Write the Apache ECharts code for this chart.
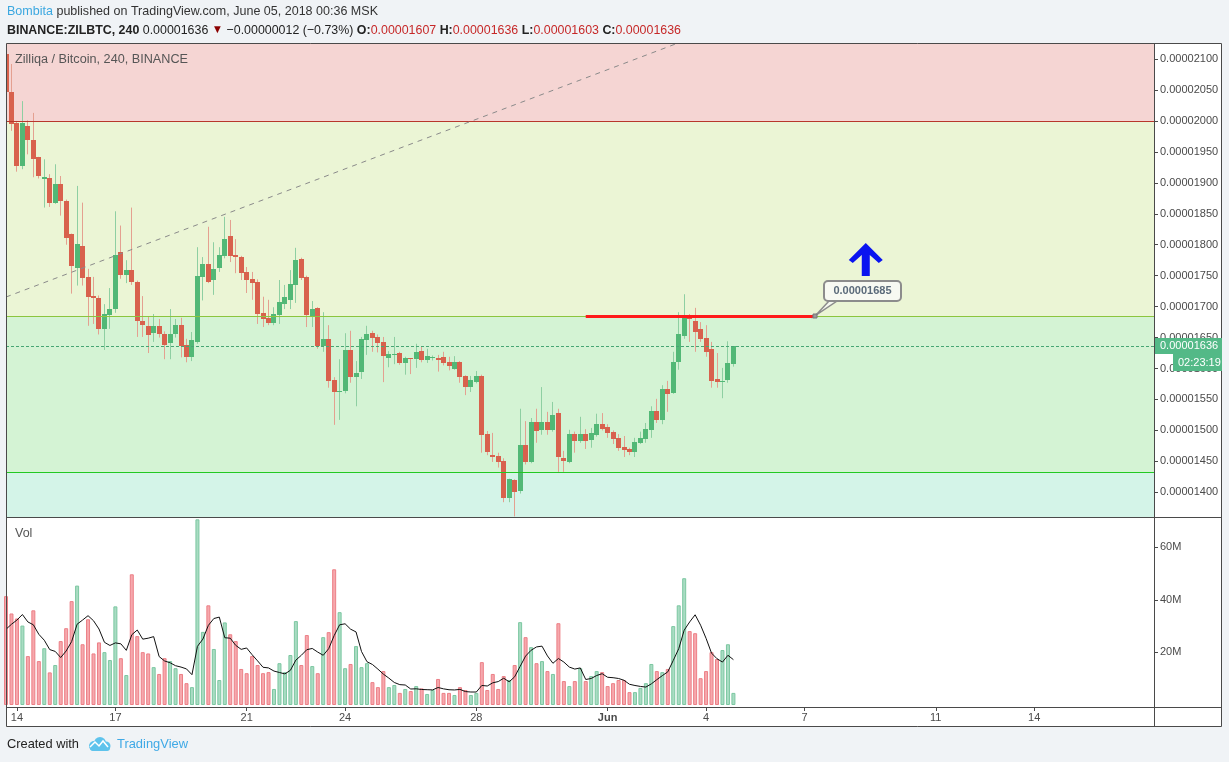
<!DOCTYPE html>
<html>
<head>
<meta charset="utf-8">
<title>ZILBTC, 240</title>
<script src="https://cdn.jsdelivr.net/npm/echarts@6/dist/echarts.min.js"></script>
<style>
  html, body { margin: 0; padding: 0; background: #f0f3f6; }
  #chart { width: 1229px; height: 762px; }
</style>
</head>
<body>
<div id="chart"></div>
<script>
// ZIL/BTC 4h candles, prices in satoshi (1e-8 BTC), first bar May 13 16:00 UTC
const opens = [
  2108, 2046, 1996, 1927, 1991, 1969, 1941, 1907, 1908, 1868,
  1898, 1871, 1817, 1763, 1798, 1748, 1717, 1714, 1664, 1687,
  1696, 1788, 1751, 1759, 1739, 1677, 1669, 1656, 1668, 1656,
  1642, 1656, 1670, 1638, 1618, 1644, 1748, 1769, 1743, 1762,
  1782, 1814, 1783, 1780, 1756, 1745, 1740, 1690, 1682, 1674,
  1686, 1704, 1711, 1735, 1777, 1748, 1685, 1698, 1637, 1648,
  1582, 1562, 1564, 1630, 1586, 1594, 1646, 1657, 1651, 1643,
  1617, 1622, 1625, 1609, 1617, 1616, 1628, 1614, 1617, 1617,
  1619, 1611, 1599, 1611, 1588, 1570, 1578, 1588, 1494, 1460,
  1459, 1451, 1392, 1420, 1401, 1476, 1449, 1514, 1501, 1514,
  1501, 1528, 1456, 1449, 1494, 1483, 1494, 1485, 1493, 1510,
  1506, 1498, 1488, 1474, 1470, 1465, 1480, 1486, 1501, 1531,
  1517, 1567, 1561, 1611, 1653, 1685, 1677, 1664, 1649, 1632,
  1583, 1578, 1582, 1607
];
const highs = [
  2115, 2092, 2000, 2032, 2001, 2013, 1942, 1938, 1914, 1930,
  1911, 1873, 1818, 1895, 1868, 1761, 1748, 1718, 1704, 1730,
  1854, 1831, 1775, 1860, 1742, 1717, 1684, 1688, 1680, 1660,
  1696, 1680, 1682, 1648, 1659, 1796, 1780, 1829, 1804, 1796,
  1845, 1840, 1809, 1782, 1764, 1756, 1744, 1716, 1711, 1699,
  1743, 1735, 1759, 1795, 1779, 1750, 1709, 1699, 1691, 1670,
  1586, 1615, 1657, 1661, 1612, 1651, 1669, 1661, 1655, 1651,
  1628, 1651, 1627, 1619, 1617, 1640, 1635, 1632, 1621, 1622,
  1627, 1619, 1620, 1612, 1589, 1588, 1596, 1590, 1499, 1496,
  1464, 1455, 1422, 1421, 1535, 1515, 1520, 1535, 1570, 1530,
  1546, 1535, 1467, 1501, 1498, 1522, 1502, 1504, 1527, 1528,
  1510, 1500, 1494, 1491, 1472, 1488, 1498, 1512, 1539, 1551,
  1573, 1580, 1627, 1691, 1720, 1688, 1698, 1675, 1670, 1643,
  1625, 1601, 1644, 1636
];
const lows = [
  2040, 1984, 1918, 1922, 1946, 1909, 1907, 1860, 1861, 1866,
  1847, 1800, 1721, 1734, 1734, 1669, 1672, 1655, 1630, 1664,
  1690, 1745, 1738, 1735, 1651, 1651, 1625, 1643, 1650, 1615,
  1615, 1650, 1618, 1610, 1612, 1640, 1710, 1738, 1719, 1756,
  1778, 1772, 1754, 1743, 1722, 1711, 1672, 1667, 1670, 1670,
  1672, 1696, 1696, 1706, 1743, 1667, 1667, 1632, 1627, 1569,
  1509, 1517, 1560, 1577, 1539, 1583, 1622, 1627, 1626, 1578,
  1602, 1607, 1606, 1590, 1591, 1601, 1610, 1609, 1613, 1595,
  1605, 1597, 1598, 1577, 1557, 1562, 1576, 1464, 1460, 1449,
  1440, 1384, 1384, 1361, 1398, 1445, 1447, 1480, 1493, 1493,
  1498, 1433, 1433, 1447, 1464, 1480, 1470, 1472, 1490, 1500,
  1488, 1478, 1467, 1457, 1460, 1457, 1478, 1480, 1488, 1512,
  1510, 1530, 1559, 1598, 1648, 1643, 1627, 1643, 1619, 1569,
  1569, 1552, 1577, 1603
];
const closes = [
  2046, 1995, 1926, 1996, 1968, 1939, 1911, 1910, 1868, 1898,
  1870, 1811, 1766, 1801, 1747, 1716, 1713, 1664, 1688, 1696,
  1783, 1751, 1759, 1739, 1676, 1671, 1655, 1668, 1655, 1639,
  1656, 1670, 1636, 1618, 1646, 1750, 1769, 1740, 1761, 1783,
  1809, 1782, 1779, 1754, 1743, 1738, 1688, 1680, 1674, 1688,
  1707, 1716, 1737, 1775, 1746, 1686, 1696, 1637, 1648, 1580,
  1562, 1563, 1630, 1586, 1593, 1648, 1656, 1649, 1641, 1620,
  1624, 1623, 1609, 1617, 1616, 1627, 1614, 1620, 1618, 1614,
  1609, 1604, 1611, 1586, 1570, 1582, 1588, 1493, 1465, 1457,
  1449, 1391, 1422, 1401, 1476, 1449, 1514, 1499, 1514, 1501,
  1525, 1457, 1451, 1494, 1483, 1494, 1483, 1496, 1510, 1502,
  1496, 1486, 1472, 1469, 1465, 1481, 1488, 1502, 1531, 1517,
  1567, 1559, 1611, 1656, 1683, 1680, 1659, 1648, 1627, 1580,
  1578, 1580, 1609, 1636
];
// volume in millions
const volumes = [
  41.4, 34.8, 32.9, 30.2, 18.6, 36.0, 16.7, 21.6, 12.4, 15.2,
  24.3, 29.2, 39.5, 45.4, 23.1, 32.6, 19.6, 23.8, 20.1, 17.1,
  37.5, 17.8, 11.4, 49.7, 26.2, 20.1, 19.6, 14.4, 11.8, 17.8,
  16.7, 14.0, 11.8, 8.3, 6.8, 70.6, 27.8, 37.9, 21.3, 9.5,
  31.4, 26.9, 24.3, 13.7, 12.1, 18.6, 15.2, 12.1, 12.5, 6.1,
  15.9, 12.5, 19.0, 31.9, 15.2, 26.6, 14.8, 12.1, 25.8, 27.7,
  51.6, 35.3, 14.0, 15.6, 22.4, 14.4, 15.9, 8.7, 6.8, 12.9,
  6.8, 7.6, 4.6, 6.1, 5.3, 7.2, 6.3, 4.2, 5.7, 9.9,
  4.6, 4.6, 3.8, 6.8, 5.7, 3.8, 4.6, 16.3, 5.7, 11.8,
  6.1, 11.0, 9.5, 15.2, 31.5, 25.8, 22.0, 15.9, 16.7, 12.9,
  11.8, 31.1, 9.1, 7.2, 9.1, 14.0, 9.1, 11.0, 12.9, 12.5,
  7.2, 8.3, 9.5, 9.5, 4.9, 4.9, 6.5, 8.3, 15.6, 12.9,
  12.5, 13.7, 30.0, 37.9, 48.2, 28.1, 27.3, 10.2, 12.9, 20.1,
  17.5, 20.9, 23.1, 4.6
];
// MA values of the first bars (their window starts before the visible range)
const volMaHead = [28.8, 30.7, 32.3, 34.4];
const maLength = 5;

// x axis: bar index of each day label
const dayTickIdx = [2, 20, 44, 62, 86, 110, 128, 146, 170, 188];
const dayTickLabels = ['14', '17', '21', '24', '28', 'Jun', '4', '7', '11', '14'];
const priceTicks = [1400, 1450, 1500, 1550, 1600, 1650, 1700, 1750, 1800, 1850, 1900, 1950, 2000, 2050, 2100];
const volTicks = [20, 40, 60];

// drawn levels and lines (satoshi)
const zoneLevels = [1360.1, 1433, 1685, 2000, 2125.9];
const zoneColors = ['#d4f4e8', '#d4f3d4', '#ebf5d5', '#f5d5d3'];
const zoneLineColors = ['#22c922', '#8cc53e', '#b8372c'];
const trendLine = [[0, 1715.5], [122.9, 2125.9]];
const resistance = [[106, 1685], [147.9, 1685]];
const arrowAt = [157.2, 1777];
const countdown = '02:23:19';

const fmt = v => (v / 1e8).toFixed(8);
const last = closes.length - 1;
const xMax = 209.9;

const upBody = '#52b876', downBody = '#d8614d';
const upWick = '#8ecfa2', downWick = '#e4a090';

const volMa = volumes.map((v, i) => i < volMaHead.length
  ? volMaHead[i]
  : volumes.slice(i - maLength + 1, i + 1).reduce((a, b) => a + b, 0) / maLength);

const chart = echarts.init(document.getElementById('chart'), null, { renderer: 'canvas' });
const sans = 'Liberation Sans, Arial, sans-serif';
const axisFont = { fontFamily: sans, fontSize: 11, color: '#4a4a4a' };

// lay out a run of text pieces from x0, squeezed to a target width (the reference uses a condensed face)
const measure = document.createElement('canvas').getContext('2d');
function textRun(segs, x0, y, targetWidth) {
  const widths = segs.map(s => { measure.font = s.font; return measure.measureText(s.text).width; });
  const total = widths.reduce((a, b) => a + b, 0);
  const k = targetWidth ? targetWidth / total : 1;
  let x = x0;
  return segs.map((s, i) => {
    const el = {
      type: 'text', z: 50, silent: true, x: x, y: y, scaleX: k,
      style: { text: s.text, font: s.font, fill: s.fill, verticalAlign: 'middle' }
    };
    x += widths[i] * k;
    return el;
  });
}

const option = {
  animation: false,
  backgroundColor: '#f0f3f6',
  grid: [
    { left: 6, right: 75, top: 43, height: 474 },
    { left: 6, right: 75, top: 518, height: 189 }
  ],
  xAxis: [
    {
      type: 'value', gridIndex: 0, min: 0, max: xMax,
      axisLine: { show: false, onZero: false }, axisTick: { show: false }, axisLabel: { show: false }, splitLine: { show: false }
    },
    {
      type: 'value', gridIndex: 1, min: 0, max: xMax,
      axisLine: { show: false, onZero: false },
      splitLine: { show: false },
      axisTick: { show: true, length: 4, customValues: dayTickIdx, lineStyle: { color: '#4a4a4a' } },
      axisLabel: {
        ...axisFont, margin: 5, customValues: dayTickIdx,
        formatter: v => {
          const t = dayTickLabels[dayTickIdx.indexOf(Math.round(v))];
          return t === 'Jun' ? '{j|Jun}' : t;
        },
        rich: { j: { ...axisFont, fontWeight: 'bold' } }
      }
    }
  ],
  yAxis: [
    {
      type: 'value', gridIndex: 0, position: 'right', min: 1360.1, max: 2125.9,
      axisLine: { show: false, onZero: false }, splitLine: { show: false },
      axisTick: { show: true, length: 4, customValues: priceTicks, lineStyle: { color: '#4a4a4a' } },
      axisLabel: { ...axisFont, margin: 6, customValues: priceTicks, formatter: v => fmt(v) }
    },
    {
      type: 'value', gridIndex: 1, position: 'right', min: -0.76, max: 71.1,
      axisLine: { show: false, onZero: false }, splitLine: { show: false },
      axisTick: { show: true, length: 4, customValues: volTicks, lineStyle: { color: '#4a4a4a' } },
      axisLabel: { ...axisFont, margin: 6, customValues: volTicks, formatter: v => v + 'M' }
    }
  ],
  series: [
    {
      // price zones behind the candles
      name: 'zones', type: 'line', xAxisIndex: 0, yAxisIndex: 0, data: [], z: 1, silent: true,
      markArea: {
        silent: true,
        data: zoneColors.map((c, k) => [
          { yAxis: zoneLevels[k], itemStyle: { color: c } },
          { yAxis: zoneLevels[k + 1] }
        ])
      },
      markLine: {
        silent: true, symbol: 'none', label: { show: false },
        data: zoneLineColors.map((c, k) => ({ yAxis: zoneLevels[k + 1], lineStyle: { color: c, width: 1, type: 'solid' } }))
          .concat([{ yAxis: closes[last], lineStyle: { color: '#47a574', width: 1, type: [3, 2] } }])
      }
    },
    {
      name: 'ZILBTC', type: 'custom', xAxisIndex: 0, yAxisIndex: 0, z: 3,
      data: opens.map((o, i) => [i, o, closes[i], lows[i], highs[i]]),
      encode: { x: 0, y: [1, 2, 3, 4] },
      renderItem: function (params, api) {
        const i = api.value(0);
        const o = api.value(1), c = api.value(2), lo = api.value(3), hi = api.value(4);
        const up = c >= o;
        const pO = api.coord([i, o]), pC = api.coord([i, c]);
        const yH = api.coord([i, hi])[1], yL = api.coord([i, lo])[1];
        const cs = params.coordSys;
        const left = Math.round(pO[0] - 2.5);
        const top = Math.round(Math.min(pO[1], pC[1]));
        const h = Math.max(1, Math.round(Math.abs(pC[1] - pO[1])));
        const body = echarts.graphic.clipRectByRect(
          { x: left, y: top, width: 5, height: h },
          { x: cs.x, y: cs.y, width: cs.width, height: cs.height }
        );
        const children = [];
        const wx = left + 2.5;
        if (wx > cs.x) {
          children.push({
            type: 'line',
            shape: { x1: wx, y1: Math.max(yH, cs.y), x2: wx, y2: yL },
            style: { stroke: up ? upWick : downWick, lineWidth: 1 }
          });
        }
        if (body) children.push({ type: 'rect', shape: body, style: { fill: up ? upBody : downBody } });
        return { type: 'group', children: children };
      }
    },
    {
      name: 'drawings', type: 'line', xAxisIndex: 0, yAxisIndex: 0, data: [], z: 5, silent: true,
      markLine: {
        silent: true, symbol: 'none', label: { show: false },
        data: [
          [
            { coord: trendLine[0], lineStyle: { color: '#8a8a8a', width: 1, type: [5, 5] } },
            { coord: trendLine[1] }
          ],
          [
            { coord: resistance[0], lineStyle: { color: '#ff1a1a', width: 3, type: 'solid' } },
            { coord: resistance[1] }
          ]
        ]
      }
    },
    {
      name: 'Vol', type: 'bar', xAxisIndex: 1, yAxisIndex: 1, barWidth: 4, z: 3,
      data: volumes.map((v, i) => {
        const up = closes[i] >= opens[i];
        return {
          value: [i, v],
          itemStyle: {
            color: up ? '#a9dcc3' : '#f6a8ad',
            borderColor: up ? '#7cc7a1' : '#ec7f86',
            borderWidth: 1
          }
        };
      })
    },
    {
      name: 'Vol MA', type: 'line', xAxisIndex: 1, yAxisIndex: 1, z: 4,
      showSymbol: false, symbol: 'none',
      lineStyle: { color: '#111', width: 1 },
      data: volMa.map((v, i) => [i, v])
    }
  ]
};

chart.setOption(option);

// overlays positioned from data coordinates
const pLast = chart.convertToPixel({ gridIndex: 0 }, [last, closes[last]]);
const pRes = chart.convertToPixel({ gridIndex: 0 }, resistance[1]);
const pArrow = chart.convertToPixel({ gridIndex: 0 }, arrowAt);
const yl = Math.round(pLast[1]);
const rx = Math.round(pRes[0]), ry = Math.round(pRes[1]);
const ax = pArrow[0], ay = pArrow[1];
const arrowPts = [[0, -16], [17, 1], [13, 4], [4, -4], [4, 17], [-4, 17], [-4, -4], [-13, 4], [-17, 1]]
  .map(p => [ax + p[0], ay + p[1]]);

const fN = '13px ' + sans, fB = 'bold 13px ' + sans;
const header1 = textRun([
  { text: 'Bombita', font: fN, fill: '#3aa7e0' },
  { text: ' published on TradingView.com, June 05, 2018 00:36 MSK', font: fN, fill: '#333' }
], 7, 11, 371);
const header2 = textRun([
  { text: 'BINANCE:ZILBTC, 240', font: fB, fill: '#222' },
  { text: ' ' + fmt(closes[last]) + ' ', font: fN, fill: '#222' },
  { text: '▼', font: '12px ' + sans, fill: '#8b0000' },
  { text: ' −0.00000012 (−0.73%) ', font: fN, fill: '#222' },
  { text: 'O:', font: fB, fill: '#222' },
  { text: fmt(opens[last]) + ' ', font: fN, fill: '#c62828' },
  { text: 'H:', font: fB, fill: '#222' },
  { text: fmt(highs[last]) + ' ', font: fN, fill: '#c62828' },
  { text: 'L:', font: fB, fill: '#222' },
  { text: fmt(lows[last]) + ' ', font: fN, fill: '#c62828' },
  { text: 'C:', font: fB, fill: '#222' },
  { text: fmt(closes[last]), font: fN, fill: '#c62828' }
], 7, 30, 674);
const paneTitle = textRun([{ text: 'Zilliqa / Bitcoin, 240, BINANCE', font: '12.5px ' + sans, fill: '#555' }], 15, 60, 173);
const volTitle = textRun([{ text: 'Vol', font: '12.5px ' + sans, fill: '#555' }], 15, 534, 0);
const footer = textRun([{ text: 'Created with', font: fN, fill: '#222' }], 7, 744, 72)
  .concat(textRun([{ text: 'TradingView', font: fN, fill: '#3fa9e6' }], 117, 744, 71));

chart.setOption({
  graphic: [
    { type: 'rect', z: -10, silent: true, shape: { x: 6, y: 43, width: 1216, height: 683 }, style: { fill: '#fff' } },
    // frame
    { type: 'rect', z: 100, silent: true, shape: { x: 6.5, y: 43.5, width: 1215, height: 683 }, style: { fill: 'none', stroke: '#4a4a4a', lineWidth: 1 } },
    { type: 'line', z: 100, silent: true, shape: { x1: 1154.5, y1: 43, x2: 1154.5, y2: 727 }, style: { stroke: '#4a4a4a', lineWidth: 1 } },
    { type: 'line', z: 100, silent: true, shape: { x1: 6, y1: 517.5, x2: 1222, y2: 517.5 }, style: { stroke: '#4a4a4a', lineWidth: 1 } },
    { type: 'line', z: 100, silent: true, shape: { x1: 6, y1: 707.5, x2: 1222, y2: 707.5 }, style: { stroke: '#4a4a4a', lineWidth: 1 } },
    // last price and countdown on the price scale
    { type: 'rect', z: 101, silent: true, shape: { x: 1155, y: yl - 8, width: 67, height: 16 }, style: { fill: '#53b987' } },
    { type: 'text', z: 102, silent: true, x: 1160, y: yl, style: { text: fmt(closes[last]), fill: '#fff', font: '11px ' + sans, verticalAlign: 'middle' } },
    { type: 'rect', z: 101, silent: true, shape: { x: 1173, y: yl + 8, width: 49, height: 17 }, style: { fill: '#53b987' } },
    { type: 'text', z: 102, silent: true, x: 1178, y: yl + 16.5, style: { text: countdown, fill: '#fff', font: '11px ' + sans, verticalAlign: 'middle' } },
    // price callout at the end of the red line
    { type: 'polygon', z: 90, silent: true, shape: { points: [[rx + 1, ry - 1], [rx + 14, ry - 15], [rx + 22, ry - 15]] }, style: { fill: '#f4f7ee', stroke: '#8c8c8c', lineWidth: 1.5 } },
    { type: 'rect', z: 91, silent: true, shape: { x: rx + 9, y: ry - 35, width: 77, height: 20, r: 4 }, style: { fill: '#f7f9f2', stroke: '#8c8c8c', lineWidth: 2 } },
    { type: 'text', z: 92, silent: true, x: rx + 47.5, y: ry - 25, style: { text: fmt(resistance[1][1]), fill: '#5a6a7a', font: 'bold 11px ' + sans, align: 'center', verticalAlign: 'middle' } },
    { type: 'rect', z: 93, silent: true, shape: { x: rx - 2, y: ry - 2, width: 4, height: 4 }, style: { fill: '#9a9a9a', stroke: '#777', lineWidth: 1 } },
    // blue arrow
    { type: 'polygon', z: 90, silent: true, shape: { points: arrowPts }, style: { fill: '#0a14f0' } },
    // TradingView logo: cloud with a white zigzag
    { type: 'circle', z: 10, silent: true, shape: { cx: 94, cy: 746, r: 5 }, style: { fill: '#5ec3ec' } },
    { type: 'circle', z: 10, silent: true, shape: { cx: 100, cy: 743, r: 6 }, style: { fill: '#5ec3ec' } },
    { type: 'circle', z: 10, silent: true, shape: { cx: 106, cy: 746, r: 4.5 }, style: { fill: '#5ec3ec' } },
    { type: 'rect', z: 10, silent: true, shape: { x: 90, y: 745, width: 20, height: 6, r: 3 }, style: { fill: '#5ec3ec' } },
    { type: 'polyline', z: 11, silent: true, shape: { points: [[90, 747], [95, 742], [99, 746], [103, 741], [108, 747]] }, style: { stroke: '#fff', lineWidth: 1.5, fill: 'none' } }
  ].concat(header1, header2, paneTitle, volTitle, footer)
});
</script>
</body>
</html>
